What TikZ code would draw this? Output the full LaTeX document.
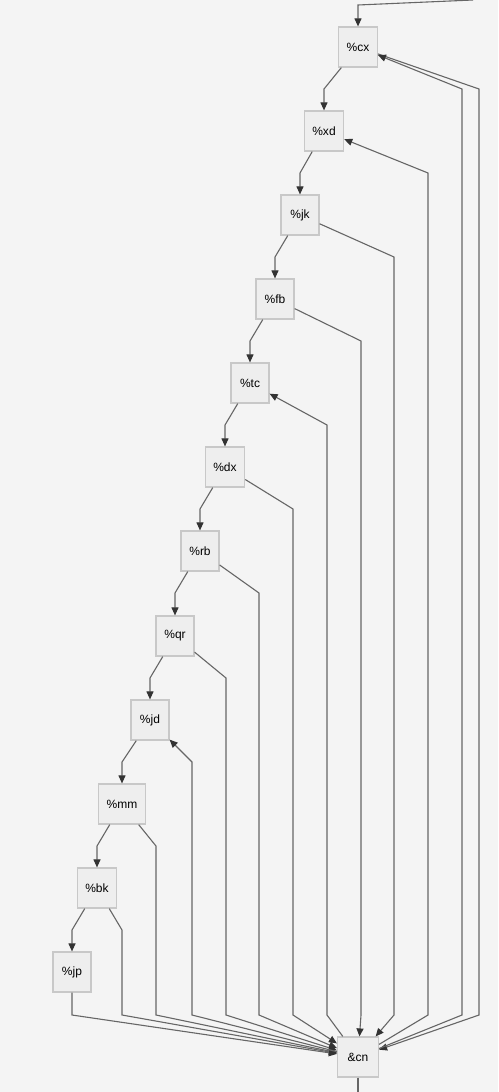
\documentclass[tikz,border=0pt]{standalone}
\usepackage{xcolor}
\usepackage{fontspec}
\setmainfont{Liberation Sans}
\usetikzlibrary{arrows.meta, positioning, calc}
\definecolor{bggray}{HTML}{F4F4F4}
\definecolor{boxfill}{HTML}{EEEEEE}
\definecolor{boxline}{HTML}{C8C8C8}
\definecolor{linkgray}{HTML}{666666}
\definecolor{tipgray}{HTML}{333333}
\tikzstyle{link} = [draw=linkgray, line width=1.1pt, -{Triangle[length=8pt,width=7pt,color=tipgray]}]

\begin{document}
\begin{tikzpicture}[x=1pt, y=-1pt, font=\fontsize{12}{14}\selectfont]
        \tikzstyle{task}=[
            draw=boxline,
            fill=boxfill,
            line width=1.2pt,
            minimum width=38pt, % same box for short names
            minimum height=40pt,
            inner xsep=8pt,
            inner ysep=0pt
        ]

        \fill[bggray] (0,0) rectangle (498,1092);
        \useasboundingbox (0,0) rectangle (498,1092);

        \node[task] (cx) at (358,47) {\%cx};
        \node[task] (xd) at (324,131) {\%xd};
        \node[task] (jk) at (300,215) {\%jk};
        \node[task] (fb) at (275,299) {\%fb};
        \node[task] (tc) at (250,383) {\%tc};
        \node[task] (dx) at (225,467) {\%dx};
        \node[task] (rb) at (200,551) {\%rb};
        \node[task] (qr) at (175,636) {\%qr};
        \node[task] (jd) at (150,720) {\%jd};
        \node[task] (mm) at (122,804) {\%mm};
        \node[task] (bk) at (97,888) {\%bk};
        \node[task] (jp) at (72,972) {\%jp};
        \node[task, minimum width=41pt] (cn) at (358,1057) {\&cn};

        \coordinate (src) at (473,0);
        \coordinate (out) at (358,1092);

        \draw[link] (src) -- (358,5) -- (cx);
        \draw[draw=linkgray, line width=1.1pt] (cn) -- (out);

        % chain down the left
        \foreach \a/\b/\y in {cx/xd/89, xd/jk/173, jk/fb/257, fb/tc/341, tc/dx/425, dx/rb/509,
                              rb/qr/593, qr/jd/678, jd/mm/762, mm/bk/846, bk/jp/930}
            \draw[link] (\a) -- (\b |- 0,\y) -- (\b);

        % into &cn
        \foreach \n/\c/\y in {jk/394/257, fb/361/341, dx/293/509, rb/259/593,
                              qr/226/678, mm/156/846, bk/122/930, cx/479/89}
            \draw[link] (\n) -- (\c,\y) -- (\c,1015) -- (cn);
        \draw[link] (jp) -- (72,1015) -- (cn);

        % back out of &cn
        \foreach \n/\c/\y in {cx/462/89, xd/428/173, tc/327/425, jd/192/762}
            \draw[link] (cn) -- (\c,1015) -- (\c,\y) -- (\n);

\end{tikzpicture}
\end{document}
